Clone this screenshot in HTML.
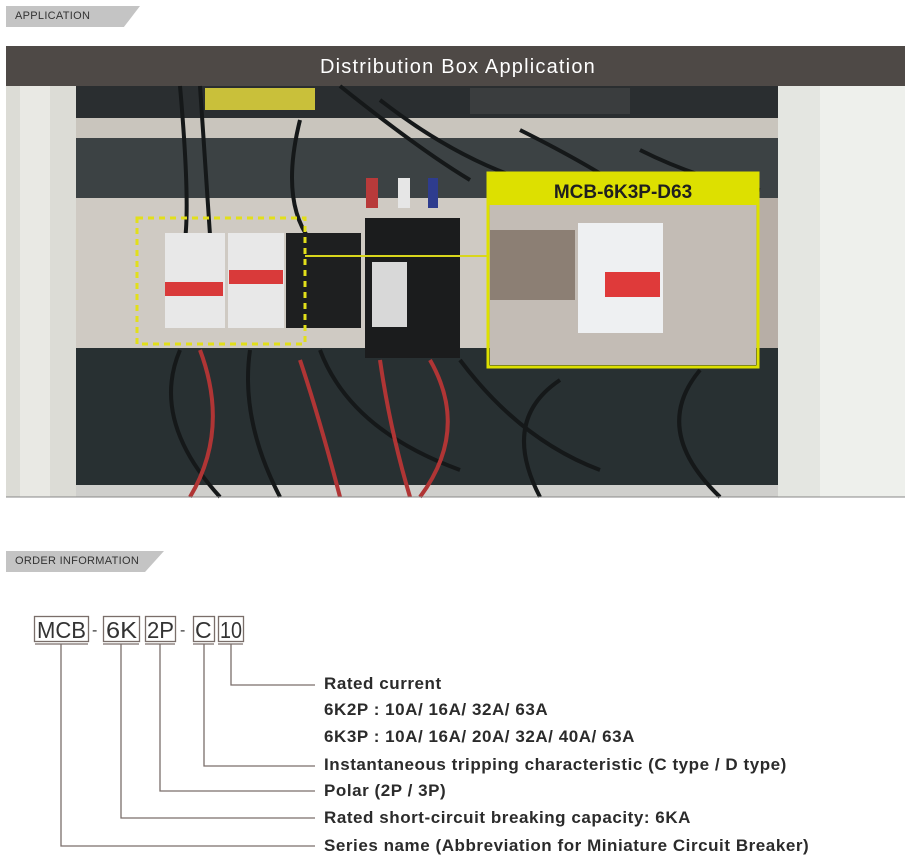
<!DOCTYPE html>
<html><head><meta charset="utf-8"><style>
body{margin:0;width:906px;height:861px;background:#fff;position:relative;overflow:hidden;font-family:"Liberation Sans",sans-serif}
.tag{position:absolute;height:21px;background:#c4c4c4;clip-path:polygon(0 0,100% 0,88% 100%,0 100%);font-size:11px;color:#333;line-height:21px;padding-left:9px;box-sizing:border-box;letter-spacing:.3px}
.t{position:absolute;left:324px;font-size:17px;letter-spacing:0.55px;font-weight:bold;color:#2b2b2b;white-space:nowrap}
</style></head><body>
<div class="tag" style="left:6px;top:6px;width:134px">APPLICATION</div>
<div class="tag" style="left:6px;top:551px;width:158px">ORDER INFORMATION</div>

<svg style="position:absolute;left:0;top:0" width="906" height="520">
<rect x="6" y="46" width="899" height="40" fill="#4e4946"/>
<text x="458" y="73" text-anchor="middle" font-family="Liberation Sans,sans-serif" font-size="20" fill="#fff" letter-spacing="1.2">Distribution Box Application</text>
<rect x="6" y="86" width="899" height="411" fill="#2f3537"/>
<rect x="6" y="86" width="70" height="411" fill="#dcdcd6"/>
<rect x="20" y="86" width="30" height="411" fill="#e9e9e4"/>
<rect x="778" y="86" width="127" height="411" fill="#e4e6e1"/>
<rect x="820" y="86" width="85" height="411" fill="#eef0ec"/>
<rect x="76" y="86" width="702" height="34" fill="#2a2e30"/>
<rect x="205" y="88" width="110" height="22" fill="#c9c03a"/>
<rect x="470" y="88" width="160" height="26" fill="#3a3d3e"/>
<rect x="76" y="118" width="702" height="20" fill="#c9c5bd"/>
<rect x="76" y="138" width="702" height="60" fill="#3c4244"/>
<rect x="76" y="198" width="412" height="150" fill="#cfcac3"/>
<rect x="488" y="198" width="290" height="150" fill="#b7aea6"/>
<rect x="76" y="348" width="702" height="142" fill="#283032"/>
<rect x="76" y="485" width="702" height="12" fill="#cfcfcc"/>
<g stroke="#151819" stroke-width="4" fill="none">
<path d="M180 86 Q190 200 185 240 M200 86 Q205 160 210 235 M300 120 Q280 200 310 240 M340 86 Q420 150 470 180 M380 100 Q470 170 560 190 M520 130 Q600 170 640 200 M640 150 Q700 180 760 190"/>
<path d="M180 350 Q150 420 220 497 M250 350 Q240 420 280 497 M320 350 Q350 430 460 470 M460 360 Q520 440 600 470 M700 370 Q650 430 720 497 M560 380 Q500 420 540 497"/>
</g>
<rect x="165" y="233" width="60" height="95" fill="#e8e8e8"/>
<rect x="228" y="233" width="56" height="95" fill="#e8e8e8"/>
<rect x="165" y="282" width="58" height="14" fill="#d93a3a"/>
<rect x="229" y="270" width="54" height="14" fill="#d93a3a"/>
<rect x="286" y="233" width="75" height="95" fill="#1e1f20"/>
<rect x="365" y="218" width="95" height="140" fill="#1b1c1d"/>
<rect x="366" y="178" width="12" height="30" fill="#b83a3a"/>
<rect x="398" y="178" width="12" height="30" fill="#e6e6e6"/>
<rect x="428" y="178" width="10" height="30" fill="#2e3c8e"/>
<rect x="372" y="262" width="35" height="65" fill="#d8d8d8"/>
<path d="M300 360 Q320 420 340 497 M380 360 Q390 430 410 497 M430 360 Q470 430 420 497 M200 350 Q230 430 190 497" stroke="#b03535" stroke-width="4" fill="none"/>
<rect x="137" y="218" width="168" height="126" fill="none" stroke="#e2df1a" stroke-width="3" stroke-dasharray="6,5"/>
<line x1="305" y1="256" x2="488" y2="256" stroke="#d9d61c" stroke-width="2"/>
<rect x="490" y="205" width="266" height="160" fill="#c3bcb5"/>
<rect x="490" y="230" width="85" height="70" fill="#8c7f74"/>
<rect x="578" y="223" width="85" height="110" fill="#eef0f2"/>
<rect x="605" y="272" width="55" height="25" fill="#df3a3a"/>
<rect x="488" y="173" width="270" height="194" fill="none" stroke="#dde000" stroke-width="3"/>
<rect x="488" y="173" width="270" height="32" fill="#dde000"/>
<text x="623" y="198" text-anchor="middle" font-family="Liberation Sans,sans-serif" font-weight="bold" font-size="19" fill="#1f1f1f">MCB-6K3P-D63</text>
<line x1="6" y1="497" x2="905" y2="497" stroke="#888" stroke-width="1"/>
</svg>

<svg style="position:absolute;left:0;top:600" width="906" height="261" font-family="Liberation Sans,sans-serif" font-size="23" fill="#333">
<g fill="none" stroke="#7a6e6a" stroke-width="1.3">
<rect x="34.5" y="16.5" width="54" height="25"/>
<rect x="103.5" y="16.5" width="36" height="25"/>
<rect x="145.5" y="16.5" width="30" height="25"/>
<rect x="193.5" y="16.5" width="21" height="25"/>
<rect x="218.5" y="16.5" width="25" height="25"/>
<path d="M35 44H88M103 44H139M145 44H175M193 44H214M218 44H243"/>
<path d="M231 44V85H315M204 44V166H315M160 44V191H315M121 44V218H315M61 44V246H315"/>
</g>
<text x="37" y="38" textLength="49" lengthAdjust="spacingAndGlyphs">MCB</text><text x="92" y="35" font-size="16">-</text>
<text x="106" y="38" textLength="31" lengthAdjust="spacingAndGlyphs">6K</text><text x="147" y="38" textLength="27" lengthAdjust="spacingAndGlyphs">2P</text>
<text x="180" y="35" font-size="16">-</text><text x="195" y="38">C</text><text x="220" y="38" textLength="22" lengthAdjust="spacingAndGlyphs">10</text>
</svg>

<div class="t" style="top:674px">Rated current</div>
<div class="t" style="top:700px">6K2P : 10A/ 16A/ 32A/ 63A</div>
<div class="t" style="top:727px">6K3P : 10A/ 16A/ 20A/ 32A/ 40A/ 63A</div>
<div class="t" style="top:755px">Instantaneous tripping characteristic (C type / D type)</div>
<div class="t" style="top:781px">Polar (2P / 3P)</div>
<div class="t" style="top:808px">Rated short-circuit breaking capacity: 6KA</div>
<div class="t" style="top:836px">Series name (Abbreviation for Miniature Circuit Breaker)</div>
</body></html>
